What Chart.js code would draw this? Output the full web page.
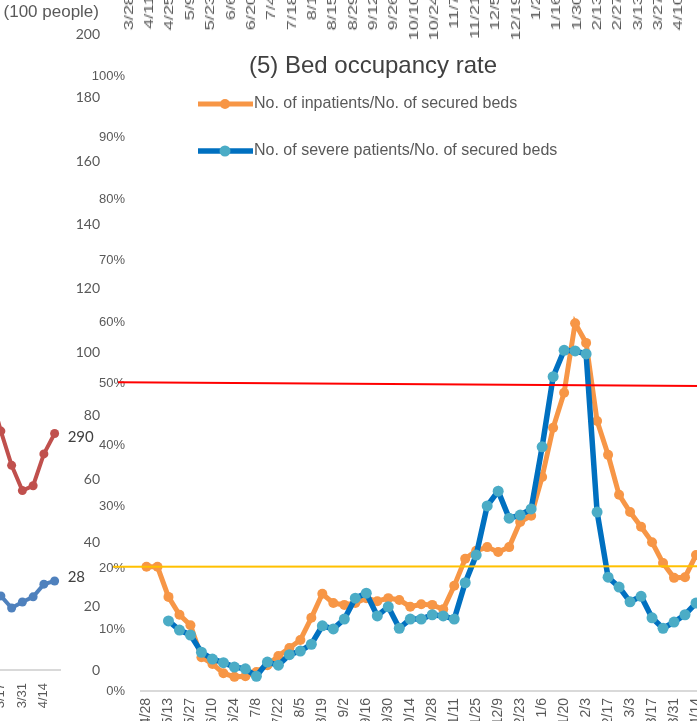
<!DOCTYPE html>
<html>
<head>
<meta charset="utf-8">
<script src="https://cdn.jsdelivr.net/npm/chart.js@4.4.1/dist/chart.umd.min.js"></script>
<style>
  html, body { margin: 0; padding: 0; background: #fff; overflow: hidden; width: 697px; height: 721px; position: relative; }
  canvas { position: absolute; }
  #unit { position: absolute; left: 0; top: 2px; width: 99px; text-align: right; font: 17px 'Liberation Sans', Arial, sans-serif; color: #595959; white-space: nowrap; }
</style>
</head>
<body>
<canvas id="topChart" width="570" height="140" style="left:119px;top:-139px;transform:scaleY(1.39);transform-origin:0 0"></canvas>
<canvas id="leftChart" width="140" height="730" style="left:-40px;top:0"></canvas>
<canvas id="bedChart" width="707" height="740" style="left:0;top:0"></canvas>
<div id="unit">(100 people)</div>
<script>
// chart above (only its date axis shows)
const topDates = ['3/28','4/11','4/25','5/9','5/23','6/6','6/20','7/4','7/18','8/1','8/15','8/29','9/12','9/26',
  '10/10','10/24','11/7','11/21','12/5','12/19','1/2','1/16','1/30','2/13','2/27','3/13','3/27','4/10'];

// chart on the left (100 people)
const leftWeeks = ['3/3','3/10','3/17','3/24','3/31','4/7','4/14','4/21'];
const inpatientsLeft = [390, 340, 293, 251, 220, 226, 265, 290];
const severeLeft = [26, 25, 23.3, 19.5, 21.4, 23.0, 27.0, 28];

// (5) Bed occupancy rate, %
const weeks = ['4/28','5/6','5/13','5/20','5/27','6/3','6/10','6/17','6/24','7/1','7/8','7/15','7/22','7/29',
  '8/5','8/12','8/19','8/26','9/2','9/9','9/16','9/23','9/30','10/7','10/14','10/21','10/28','11/4','11/11',
  '11/18','11/25','12/2','12/9','12/16','12/23','12/30','1/6','1/13','1/20','1/27','2/3','2/10','2/17','2/24',
  '3/3','3/10','3/17','3/24','3/31','4/7','4/14'];
const inpatientRate = [20.2,20.2,15.3,12.4,10.7,5.5,4.4,2.9,2.3,2.4,3.1,4.2,5.7,7.0,8.3,11.9,15.8,14.3,14.0,14.3,
  15.1,14.6,15.1,14.8,13.7,14.1,14.0,13.3,17.1,21.5,22.8,23.4,22.6,23.4,27.5,28.5,34.8,42.8,48.5,59.8,56.6,
  43.9,38.4,31.9,29.1,26.7,24.2,20.8,18.4,18.5,22.1];
const severeRate = [null,null,11.4,9.9,9.1,6.3,5.2,4.6,3.9,3.6,2.4,4.7,4.2,5.9,6.5,7.6,10.6,10.1,11.7,15.1,15.9,
  12.2,13.7,10.2,11.7,11.7,12.4,12.2,11.7,17.6,22.1,30.1,32.5,28.1,28.6,29.6,39.7,51.1,55.4,55.3,54.8,29.1,
  18.5,16.9,14.5,15.4,11.9,10.2,11.2,12.4,14.3];
const redLine = [50.2, 49.6];
const yellowLine = [20.2, 20.3];
const titleText = '(5) Bed occupancy rate';

const sans = "'Liberation Sans', Arial, sans-serif";
const grey = '#595959';
const noGrid = { display: false, drawTicks: false };
const everyOther = function(v, i) { return i % 2 === 0 ? this.getLabelForValue(v) : ''; };
const noSidePad = s => { s.paddingLeft = 0; s.paddingRight = 0; };

new Chart(document.getElementById('topChart'), {
  type: 'line',
  data: { labels: topDates, datasets: [{ data: [] }] },
  options: {
    responsive: false, animation: false, events: [],
    layout: { padding: 0 },
    plugins: { legend: { display: false }, tooltip: { enabled: false } },
    scales: {
      x: {
        offset: true, grid: noGrid, border: { display: false },
        ticks: { autoSkip: false, minRotation: 90, maxRotation: 90, padding: 3, color: grey, font: { family: sans, size: 13 } },
        afterFit: s => { s.height = 46.6; noSidePad(s); }
      },
      y: { display: false }
    }
  }
});

const endLabels = {
  id: 'endLabels',
  afterDatasetsDraw(chart) {
    const ctx = chart.ctx;
    ctx.save();
    ctx.font = "15px Lato, sans-serif";
    ctx.fillStyle = '#404040';
    ctx.textAlign = 'left';
    ctx.textBaseline = 'middle';
    chart.data.datasets.forEach((ds, i) => {
      const pts = chart.getDatasetMeta(i).data;
      const p = pts[pts.length - 1];
      ctx.fillText(String(ds.data[ds.data.length - 1]), p.x + 13, p.y + (i === 0 ? 4 : -4));
    });
    ctx.restore();
  }
};

new Chart(document.getElementById('leftChart'), {
  type: 'line',
  data: {
    labels: leftWeeks,
    datasets: [
      { data: inpatientsLeft, yAxisID: 'y2', borderColor: '#c0504d', backgroundColor: '#c0504d', borderWidth: 4, pointRadius: 4.5, pointBorderWidth: 0 },
      { data: severeLeft, yAxisID: 'y', borderColor: '#4f81bd', backgroundColor: '#4f81bd', borderWidth: 4, pointRadius: 4.5, pointBorderWidth: 0 }
    ]
  },
  options: {
    responsive: false, animation: false, events: [],
    layout: { padding: { top: 34, left: 14, right: 0, bottom: 0 } },
    plugins: { legend: { display: false }, tooltip: { enabled: false } },
    scales: {
      x: {
        offset: true, grid: noGrid, border: { color: '#d9d9d9', width: 2 },
        ticks: { autoSkip: false, minRotation: 90, maxRotation: 90, padding: 13, color: grey, font: { family: sans, size: 13 }, callback: everyOther },
        afterFit: s => { s.height = 60; noSidePad(s); }
      },
      y: {
        position: 'right', min: 0, max: 200, grid: noGrid, border: { display: false },
        ticks: { stepSize: 20, padding: 16, crossAlign: 'far', color: grey, font: { family: 'Lato, sans-serif', size: 14 } },
        afterFit: s => { s.width = 40; }
      },
      y2: { position: 'left', display: false, min: 0, max: 780 }
    }
  },
  plugins: [endLabels]
});

const bedExtras = {
  id: 'bedExtras',
  afterDatasetsDraw(chart) {
    const { ctx, chartArea: a, scales: { y } } = chart;
    ctx.save();
    ctx.lineWidth = 2;
    ctx.strokeStyle = '#ff0000';
    ctx.beginPath();
    ctx.moveTo(118, y.getPixelForValue(redLine[0]));
    ctx.lineTo(a.right, y.getPixelForValue(redLine[1]));
    ctx.stroke();
    ctx.strokeStyle = '#ffc000';
    ctx.beginPath();
    ctx.moveTo(113, y.getPixelForValue(yellowLine[0]));
    ctx.lineTo(a.right, y.getPixelForValue(yellowLine[1]));
    ctx.stroke();

    ctx.fillStyle = '#404040';
    ctx.font = '24px ' + sans;
    ctx.textAlign = 'center';
    ctx.textBaseline = 'middle';
    ctx.fillText(titleText, 373, 66);

    // legend
    ctx.textAlign = 'left';
    ctx.font = '16px ' + sans;
    chart.data.datasets.forEach((ds, i) => {
      const ly = [104, 151][i];
      ctx.strokeStyle = ds.borderColor;
      ctx.lineWidth = ds.borderWidth;
      ctx.beginPath();
      ctx.moveTo(198, ly);
      ctx.lineTo(253, ly);
      ctx.stroke();
      ctx.fillStyle = ds.pointBackgroundColor || ds.backgroundColor;
      ctx.beginPath();
      ctx.arc(225, ly, ds.pointRadius, 0, Math.PI * 2);
      ctx.fill();
      ctx.fillStyle = grey;
      ctx.fillText(ds.label, 254, ly);
    });
    ctx.restore();
  }
};

new Chart(document.getElementById('bedChart'), {
  type: 'line',
  data: {
    labels: weeks,
    datasets: [
      { label: 'No. of inpatients/No. of secured beds', data: inpatientRate, order: 1,
        borderColor: '#f79646', backgroundColor: '#f79646', borderWidth: 5, pointRadius: 5, pointBorderWidth: 0 },
      { label: 'No. of severe patients/No. of secured beds', data: severeRate, order: 0,
        borderColor: '#0070c0', backgroundColor: '#4bacc6', pointBackgroundColor: '#4bacc6', borderWidth: 5.5, pointRadius: 5.5, pointBorderWidth: 0 }
    ]
  },
  options: {
    responsive: false, animation: false, events: [],
    layout: { padding: { top: 76, left: 0, right: 0, bottom: 0 } },
    plugins: { legend: { display: false }, tooltip: { enabled: false } },
    scales: {
      x: {
        offset: true, grid: noGrid, border: { color: '#d9d9d9', width: 2 },
        ticks: { autoSkip: false, minRotation: 90, maxRotation: 90, padding: 7, color: grey, font: { family: sans, size: 14 }, callback: everyOther },
        afterFit: s => { s.height = 49; noSidePad(s); }
      },
      y: {
        min: 0, max: 100, grid: noGrid, border: { display: false },
        ticks: { stepSize: 10, padding: 16, color: grey, font: { family: sans, size: 13 }, callback: v => v + '%' },
        afterFit: s => { s.width = 141; }
      }
    }
  },
  plugins: [bedExtras]
});
</script>
</body>
</html>
